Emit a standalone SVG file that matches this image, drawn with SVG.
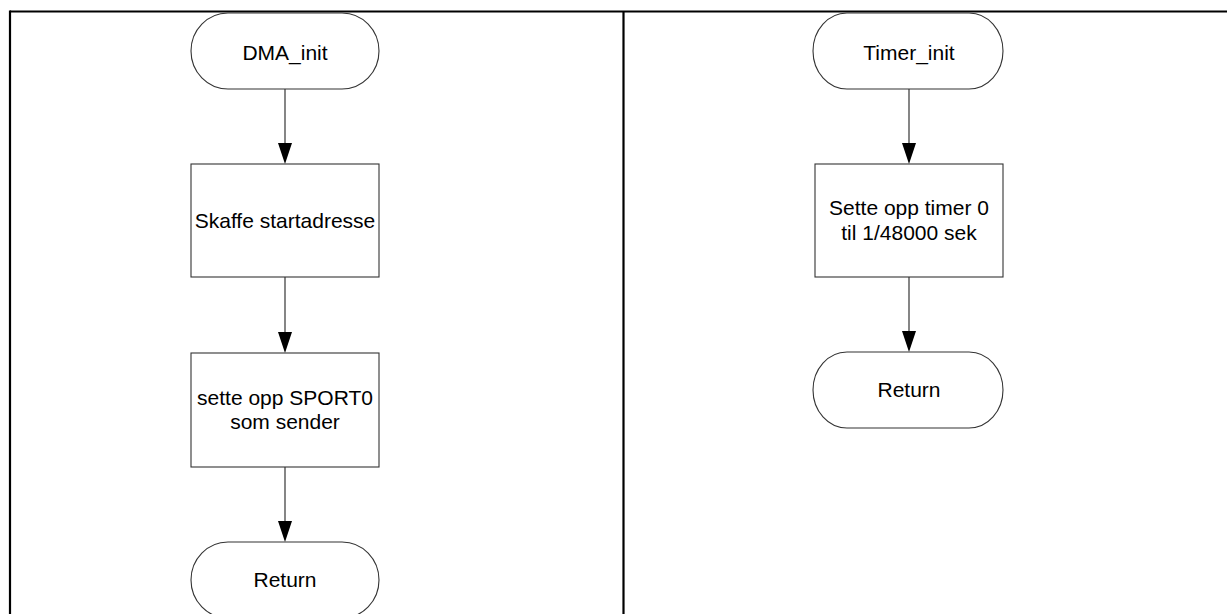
<svg xmlns="http://www.w3.org/2000/svg" width="1227" height="614" viewBox="0 0 1227 614">
  <style>
    .frame { stroke: #000; stroke-width: 2.2; fill: none; }
    .shape { fill: #fff; stroke: #333; stroke-width: 1.1; }
    .flow { stroke: #222; stroke-width: 1.1; fill: none; marker-end: url(#arrow); }
    .lbl { font-family: "Liberation Sans", Arial, sans-serif; font-size: 21px; fill: #000; text-anchor: middle; }
  </style>
  <defs>
    <marker id="arrow" viewBox="0 0 14 21" refX="7" refY="21" markerWidth="14" markerHeight="21" markerUnits="userSpaceOnUse" orient="auto-start-reverse">
      <path d="M0,0 L14,0 L7,21 Z" fill="#000" transform="rotate(-90 7 10.5) translate(-3.5 3.5)" />
    </marker>
  </defs>

  <rect width="1227" height="614" fill="#fff" />

  <!-- table frame -->
  <g id="frame" class="frame">
    <line x1="10" y1="11.5" x2="1227" y2="11.5" />
    <line x1="10" y1="10.4" x2="10" y2="614" />
    <line x1="623.5" y1="11.5" x2="623.5" y2="614" />
  </g>

  <!-- connectors -->
  <g id="connectors">
    <line x1="285" y1="89" x2="285" y2="143" stroke="#222" stroke-width="1.1" />
    <path d="M278,143 L292,143 L285,164 Z" fill="#000" />
    <line x1="285" y1="277" x2="285" y2="332" stroke="#222" stroke-width="1.1" />
    <path d="M278,332 L292,332 L285,353 Z" fill="#000" />
    <line x1="285" y1="467" x2="285" y2="521" stroke="#222" stroke-width="1.1" />
    <path d="M278,521 L292,521 L285,542 Z" fill="#000" />

    <line x1="909" y1="89" x2="909" y2="143" stroke="#222" stroke-width="1.1" />
    <path d="M902,143 L916,143 L909,164 Z" fill="#000" />
    <line x1="909" y1="277" x2="909" y2="331" stroke="#222" stroke-width="1.1" />
    <path d="M902,331 L916,331 L909,352 Z" fill="#000" />
  </g>

  <!-- left flow: DMA_init -->
  <g id="dma-init">
    <path class="shape" d="M228,13 L342,13 A37,38 0 0 1 342,89 L228,89 A37,38 0 0 1 228,13 Z" />
    <text class="lbl" x="285" y="60">DMA_init</text>
  </g>
  <g id="skaffe-startadresse">
    <rect class="shape" x="191" y="164" width="188" height="113" />
    <text class="lbl" x="285" y="228">Skaffe startadresse</text>
  </g>
  <g id="sette-opp-sport0">
    <rect class="shape" x="191" y="353" width="188" height="114" />
    <text class="lbl" x="285" y="405">sette opp SPORT0</text>
    <text class="lbl" x="285" y="429">som sender</text>
  </g>
  <g id="return-dma">
    <path class="shape" d="M228,542 L342,542 A37,38 0 0 1 342,618 L228,618 A37,38 0 0 1 228,542 Z" />
    <text class="lbl" x="285" y="587">Return</text>
  </g>

  <!-- right flow: Timer_init -->
  <g id="timer-init">
    <path class="shape" d="M847,13 L969,13 A34,38 0 0 1 969,89 L847,89 A34,38 0 0 1 847,13 Z" />
    <text class="lbl" x="909" y="60">Timer_init</text>
  </g>
  <g id="sette-opp-timer0">
    <rect class="shape" x="815" y="164" width="188" height="113" />
    <text class="lbl" x="909" y="215">Sette opp timer 0</text>
    <text class="lbl" x="909" y="240">til 1/48000 sek</text>
  </g>
  <g id="return-timer">
    <path class="shape" d="M847,352 L969,352 A34,38 0 0 1 969,428 L847,428 A34,38 0 0 1 847,352 Z" />
    <text class="lbl" x="909" y="397">Return</text>
  </g>
</svg>
